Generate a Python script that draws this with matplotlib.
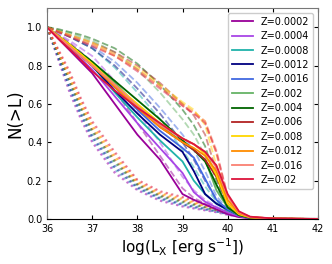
import matplotlib
matplotlib.use("Agg")
import matplotlib.pyplot as plt

# luminosity grid (log L_X)
logL = [36, 36.25, 36.5, 36.75, 37, 37.5, 38, 38.5, 39, 39.25, 39.5, 39.75, 40, 40.25, 40.5, 41, 42]

metallicity = ["0.0002", "0.0004", "0.0008", "0.0012", "0.0016", "0.002",
               "0.004", "0.006", "0.008", "0.012", "0.016", "0.02"]
colors = ["#990099", "#a845e6", "lightseagreen", "navy", "royalblue", "#66b366",
          "darkgreen", "firebrick", "gold", "darkorange", "salmon", "crimson"]

# solid curves
solid = [
    [1, 0.94, 0.88, 0.82, 0.76, 0.60, 0.44, 0.31, 0.13, 0.10, 0.075, 0.05, 0.025, 0.01, 0.004, 0.001, 0],
    [1, 0.945, 0.89, 0.835, 0.78, 0.64, 0.50, 0.37, 0.24, 0.14, 0.09, 0.06, 0.035, 0.015, 0.005, 0.001, 0],
    [1, 0.95, 0.90, 0.85, 0.80, 0.66, 0.53, 0.41, 0.30, 0.20, 0.13, 0.08, 0.045, 0.02, 0.006, 0.001, 0],
    [1, 0.95, 0.90, 0.85, 0.80, 0.67, 0.55, 0.44, 0.35, 0.25, 0.13, 0.08, 0.05, 0.02, 0.006, 0.001, 0],
    [1, 0.95, 0.905, 0.86, 0.81, 0.69, 0.57, 0.46, 0.37, 0.32, 0.21, 0.10, 0.05, 0.02, 0.006, 0.001, 0],
    [1, 0.955, 0.91, 0.865, 0.82, 0.71, 0.59, 0.49, 0.40, 0.36, 0.31, 0.15, 0.06, 0.02, 0.006, 0.001, 0],
    [1, 0.955, 0.91, 0.865, 0.82, 0.72, 0.62, 0.52, 0.41, 0.36, 0.30, 0.18, 0.06, 0.02, 0.006, 0.001, 0],
    [1, 0.95, 0.90, 0.85, 0.80, 0.69, 0.58, 0.48, 0.40, 0.36, 0.31, 0.22, 0.08, 0.025, 0.008, 0.002, 0],
    [1, 0.955, 0.91, 0.86, 0.81, 0.70, 0.60, 0.50, 0.42, 0.39, 0.34, 0.23, 0.08, 0.025, 0.008, 0.002, 0],
    [1, 0.95, 0.90, 0.85, 0.80, 0.69, 0.58, 0.48, 0.40, 0.37, 0.33, 0.25, 0.10, 0.03, 0.01, 0.002, 0],
    [1, 0.95, 0.90, 0.85, 0.80, 0.70, 0.59, 0.49, 0.42, 0.39, 0.35, 0.27, 0.12, 0.035, 0.01, 0.002, 0],
    [1, 0.94, 0.885, 0.83, 0.77, 0.67, 0.58, 0.50, 0.42, 0.39, 0.35, 0.28, 0.13, 0.04, 0.012, 0.003, 0],
]

# dashed curves
dashed = [
    [1, 0.96, 0.92, 0.87, 0.82, 0.67, 0.50, 0.33, 0.16, 0.11, 0.08, 0.055, 0.03, 0.012, 0.005, 0.001, 0],
    [1, 0.965, 0.93, 0.89, 0.85, 0.72, 0.56, 0.40, 0.22, 0.15, 0.10, 0.065, 0.035, 0.015, 0.005, 0.001, 0],
    [1, 0.975, 0.95, 0.92, 0.89, 0.79, 0.66, 0.52, 0.36, 0.27, 0.17, 0.09, 0.04, 0.015, 0.005, 0.001, 0],
    [1, 0.975, 0.95, 0.92, 0.89, 0.80, 0.68, 0.55, 0.40, 0.31, 0.20, 0.10, 0.045, 0.015, 0.005, 0.001, 0],
    [1, 0.98, 0.955, 0.93, 0.90, 0.82, 0.71, 0.58, 0.44, 0.36, 0.25, 0.12, 0.05, 0.02, 0.006, 0.001, 0],
    [1, 0.985, 0.97, 0.95, 0.93, 0.87, 0.78, 0.66, 0.52, 0.44, 0.33, 0.17, 0.06, 0.02, 0.006, 0.001, 0],
    [1, 0.99, 0.975, 0.96, 0.94, 0.89, 0.81, 0.70, 0.57, 0.49, 0.38, 0.20, 0.07, 0.02, 0.006, 0.001, 0],
    [1, 0.98, 0.96, 0.94, 0.92, 0.87, 0.80, 0.71, 0.60, 0.54, 0.44, 0.25, 0.08, 0.025, 0.008, 0.002, 0],
    [1, 0.98, 0.96, 0.94, 0.92, 0.86, 0.79, 0.70, 0.61, 0.57, 0.49, 0.28, 0.08, 0.025, 0.008, 0.002, 0],
    [1, 0.975, 0.955, 0.93, 0.91, 0.85, 0.78, 0.69, 0.60, 0.56, 0.51, 0.34, 0.10, 0.03, 0.01, 0.002, 0],
    [1, 0.975, 0.955, 0.93, 0.91, 0.86, 0.78, 0.69, 0.59, 0.55, 0.51, 0.36, 0.12, 0.035, 0.01, 0.002, 0],
    [1, 0.975, 0.95, 0.925, 0.90, 0.85, 0.77, 0.68, 0.59, 0.55, 0.50, 0.35, 0.12, 0.035, 0.01, 0.002, 0],
]

# dotted curves
dotted = [
    [1, 0.83, 0.66, 0.52, 0.40, 0.24, 0.15, 0.095, 0.065, 0.055, 0.045, 0.035, 0.022, 0.012, 0.006, 0.001, 0],
    [1, 0.835, 0.67, 0.53, 0.41, 0.25, 0.155, 0.10, 0.068, 0.057, 0.047, 0.036, 0.023, 0.013, 0.006, 0.001, 0],
    [1, 0.84, 0.68, 0.54, 0.42, 0.26, 0.16, 0.104, 0.072, 0.06, 0.049, 0.038, 0.025, 0.014, 0.007, 0.001, 0],
    [1, 0.845, 0.69, 0.55, 0.43, 0.27, 0.165, 0.108, 0.076, 0.064, 0.052, 0.04, 0.026, 0.015, 0.007, 0.001, 0],
    [1, 0.85, 0.70, 0.56, 0.44, 0.28, 0.17, 0.112, 0.08, 0.068, 0.055, 0.042, 0.027, 0.015, 0.007, 0.001, 0],
    [1, 0.855, 0.71, 0.57, 0.45, 0.29, 0.175, 0.116, 0.085, 0.072, 0.058, 0.044, 0.028, 0.016, 0.008, 0.002, 0],
    [1, 0.86, 0.72, 0.58, 0.46, 0.30, 0.18, 0.12, 0.09, 0.076, 0.061, 0.046, 0.03, 0.017, 0.008, 0.002, 0],
    [1, 0.865, 0.73, 0.59, 0.47, 0.31, 0.185, 0.125, 0.095, 0.08, 0.064, 0.048, 0.032, 0.018, 0.009, 0.002, 0],
    [1, 0.87, 0.74, 0.60, 0.48, 0.32, 0.19, 0.13, 0.10, 0.084, 0.067, 0.05, 0.034, 0.019, 0.009, 0.002, 0],
    [1, 0.875, 0.75, 0.61, 0.49, 0.33, 0.195, 0.135, 0.105, 0.088, 0.07, 0.053, 0.035, 0.02, 0.01, 0.002, 0],
    [1, 0.88, 0.76, 0.62, 0.50, 0.34, 0.20, 0.14, 0.11, 0.092, 0.074, 0.056, 0.037, 0.021, 0.01, 0.002, 0],
    [1, 0.885, 0.77, 0.63, 0.51, 0.35, 0.205, 0.145, 0.115, 0.096, 0.077, 0.058, 0.038, 0.022, 0.011, 0.002, 0],
]

fig = plt.figure(figsize=(3.32, 2.64), dpi=100)
ax = fig.add_axes([47 / 332, 45 / 264, 271 / 332, 211 / 264])

for i in range(len(metallicity)):
    ax.plot(logL, dotted[i], ":", color=colors[i], lw=1.5, alpha=0.5)
    ax.plot(logL, dashed[i], "--", color=colors[i], lw=1.3, alpha=0.5)
for i in range(len(metallicity)):
    ax.plot(logL, solid[i], "-", color=colors[i], lw=1.3, label="Z=" + metallicity[i])

ax.set_xlim(36, 42)
ax.set_ylim(0, 1.1)
ax.set_xticks(range(36, 43))
ax.set_yticks([0, 0.2, 0.4, 0.6, 0.8, 1.0])
ax.tick_params(direction="in", top=True, right=True, labelsize=7, length=3)
for s in ["left", "top", "right"]:
    ax.spines[s].set_color("#777777")
ax.spines["bottom"].set_color("black")
ax.set_xlabel("log(L$_\\mathrm{X}$ [erg s$^{-1}$])", fontsize=11, labelpad=2)
ax.set_ylabel("N(>L)", fontsize=12, labelpad=2)
ax.legend(loc="upper right", fontsize=7, handlelength=2.2, labelspacing=0.45,
          framealpha=1, edgecolor="#cccccc", fancybox=True)

fig.savefig("out.png", dpi=100)
